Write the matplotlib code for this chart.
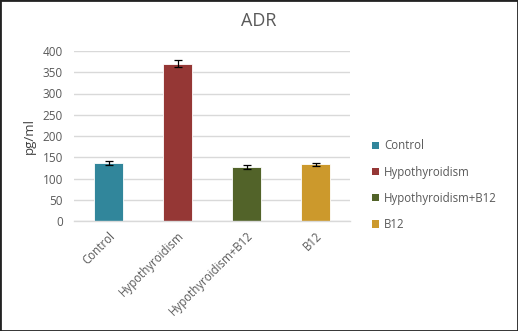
import numpy as np
import matplotlib
matplotlib.use('Agg')
import matplotlib.pyplot as plt
from matplotlib.patches import Patch, Rectangle

plt.rcParams['font.family'] = ['Open Sans', 'DejaVu Sans']

groups = ['Control', 'Hypothyroidism', 'Hypothyroidism+B12', 'B12']
adr = [136, 370, 127, 133]
adr_err = [5, 8, 5, 3]
colors = ['#31869B', '#953735', '#526329', '#CC992C']
GREY = '#595959'

fig = plt.figure(figsize=(5.18, 3.31), dpi=100)
ax = fig.add_axes([74 / 518, 1 - 221 / 331, (350 - 74) / 518, (221 - 51) / 331])

x = np.arange(len(groups))
ax.bar(x, adr, width=0.41, color=colors, edgecolor='white', linewidth=0.6, zorder=2)
ax.errorbar(x, adr, yerr=adr_err, fmt='none', ecolor='black', elinewidth=0.9,
            capsize=2.8, capthick=0.9, zorder=3)

ax.set_xlim(-0.5, 3.5); ax.set_ylim(0, 400)
ax.set_yticks(range(0, 401, 50))
ax.yaxis.grid(True, color='#D9D9D9', linewidth=1.0, zorder=0)
ax.set_axisbelow(True)
for s in ['top', 'right', 'left']:
    ax.spines[s].set_visible(False)
ax.spines['bottom'].set_color('#D9D9D9'); ax.spines['bottom'].set_linewidth(1.0)
ax.tick_params(axis='y', length=0, labelsize=8.5, colors=GREY, pad=8)
ax.tick_params(axis='x', length=0, labelsize=8.3, colors=GREY, pad=6)
ax.set_xticks(x)
ax.set_xticklabels(groups, rotation=45, ha='right', rotation_mode='anchor')
ax.set_ylabel('pg/ml', fontsize=9.5, color='#404040', labelpad=5)

fig.text(0.5, 1 - 21 / 331, 'ADR', ha='center', va='center', fontsize=13, color=GREY)

handles = [Patch(facecolor=c, label=g) for c, g in zip(colors, groups)]
fig.legend(handles=handles, loc='upper left', bbox_to_anchor=(362 / 518, 1 - 129 / 331),
           frameon=False, fontsize=8.3, labelcolor=GREY, handlelength=0.6,
           handleheight=0.6, handletextpad=0.4, labelspacing=1.15)

fig.patches.append(Rectangle((0, 0), 1, 1, transform=fig.transFigure, fill=False,
                             edgecolor='#222222', linewidth=2.0, zorder=10))
fig.savefig('out.png', dpi=100, facecolor='white')
